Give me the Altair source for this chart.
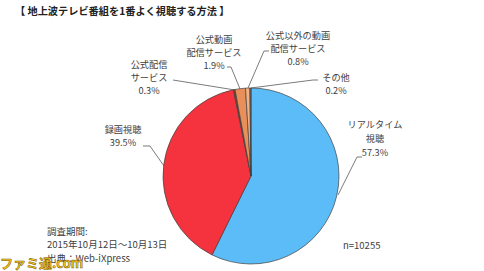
import altair as alt
import pandas as pd

categories = ["リアルタイム視聴", "録画視聴", "公式配信サービス", "公式動画配信サービス",
              "公式以外の動画配信サービス", "その他"]
values = [57.3, 39.5, 0.3, 1.9, 0.8, 0.2]
colors = ["#5BBCF7", "#F5333F", "#8B3A1E", "#E98F59", "#F4B183", "#6B6B6B"]

title_text = "【 地上波テレビ番組を1番よく視聴する方法 】"
note_lines = ["調査期間:", "2015年10月12日～10月13日", "出典：Web-iXpress"]
n_text = "n=10255"

FONT = "Noto Sans CJK JP"
TXT = "#404040"
CX, CY, R = 251, 176, 88

pie_df = pd.DataFrame({"cat": categories, "val": values, "ord": list(range(len(values)))})

pie = alt.Chart(pie_df).mark_arc(outerRadius=R, stroke="#404040", strokeWidth=0.7).encode(
    theta=alt.Theta("val:Q", stack=True),
    order=alt.Order("ord:Q"),
    color=alt.Color("cat:N", scale=alt.Scale(domain=categories, range=colors), legend=None),
    x=alt.value(CX), y=alt.value(CY),
)

# label layout (annotation positions)
label_layout = {
    "リアルタイム視聴": (375, [125, 139, 153], ["リアルタイム", "視聴"]),
    "録画視聴": (123, [130, 143], ["録画視聴"]),
    "公式配信サービス": (149, [65, 78, 91], ["公式配信", "サービス"]),
    "公式動画配信サービス": (214, [40, 53, 66], ["公式動画", "配信サービス"]),
    "公式以外の動画配信サービス": (298, [36, 49, 62], ["公式以外の動画", "配信サービス"]),
    "その他": (336, [78, 91], ["その他"]),
}
rows = []
for cat, v in zip(categories, values):
    lx, ys, parts = label_layout[cat]
    texts = parts + [f"{v}%"]
    for t, yy in zip(texts, ys):
        rows.append({"t": t, "x": lx, "y": yy})
lab_df = pd.DataFrame(rows)
labels = alt.Chart(lab_df).mark_text(font=FONT, fontSize=9.2, color=TXT, align="center",
                                     baseline="middle").encode(
    x=alt.X("x:Q", scale=None), y=alt.Y("y:Q", scale=None), text="t:N")

# leader lines
leader_pts = [
    ("a", [(143, 146), (150, 146), (164, 166)]),
    ("b", [(362, 157), (357, 157), (338, 195)]),
    ("c", [(173, 80), (235, 90)]),
    ("d", [(227, 67), (231, 67), (240, 89)]),
    ("e", [(269, 51), (264, 51), (248, 88)]),
    ("f", [(251, 88), (313, 80), (318, 80)]),
]
lrows = []
for k, pts in leader_pts:
    for i, (px, py) in enumerate(pts):
        lrows.append({"k": k, "i": i, "x": px, "y": py})
leaders = alt.Chart(pd.DataFrame(lrows)).mark_line(color="#595959", strokeWidth=0.8).encode(
    x=alt.X("x:Q", scale=None), y=alt.Y("y:Q", scale=None), detail="k:N", order="i:Q")

title = alt.Chart(pd.DataFrame({"t": [title_text]})).mark_text(
    font=FONT, fontSize=10.2, fontWeight="bold", color="#222222", align="left", baseline="middle"
).encode(x=alt.value(15), y=alt.value(12), text="t:N")

note_df = pd.DataFrame({"t": note_lines, "y": [232, 245, 259]})
notes = alt.Chart(note_df).mark_text(font=FONT, fontSize=9.5, color=TXT, align="left",
                                     baseline="middle").encode(
    x=alt.value(47), y=alt.Y("y:Q", scale=None), text="t:N")

ntxt = alt.Chart(pd.DataFrame({"t": [n_text]})).mark_text(
    font=FONT, fontSize=9.5, color=TXT, align="left", baseline="middle"
).encode(x=alt.value(343), y=alt.value(246), text="t:N")

wm = alt.Chart(pd.DataFrame({"t": ["ファミ通.com"]})).mark_text(
    font=FONT, fontSize=13, fontWeight="bold", color="#F8C61E", stroke="#7a5800",
    strokeWidth=0.5, align="left", baseline="bottom"
).encode(x=alt.value(0), y=alt.value(271), text="t:N")

chart = alt.layer(pie, leaders, labels, title, notes, ntxt, wm).properties(
    width=484, height=271, padding=0, autosize=alt.AutoSizeParams(type="none"),
    background="white"
).configure_view(stroke=None)

chart.save("out.html", embed_options={"renderer": "svg", "actions": False})
